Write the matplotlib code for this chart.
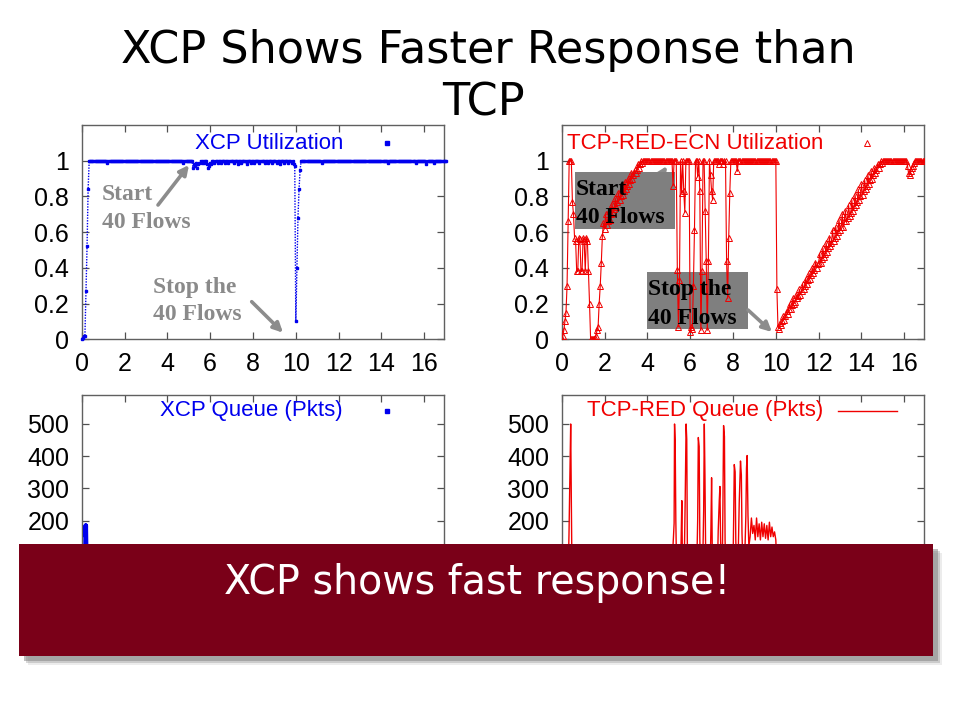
import numpy as np
import matplotlib
matplotlib.use('Agg')
import matplotlib.pyplot as plt
from matplotlib.patches import Rectangle, FancyArrowPatch

# ---------------- data ----------------
util_step = 0.05  # seconds between utilization samples

xcp_util = [
    0, .01, .02, .02, .27, .52, .84, 1, 1, 1, 1, 1, 1, 1, 1, 1, 1, 1, 1, 1,
    1, 1, 1, 1, .99, 1, 1, 1, 1, 1, 1, 1, 1, 1, 1, 1, 1, 1, 1, 1,
    1, 1, 1, 1, 1, 1, 1, 1, 1, 1, 1, 1, 1, 1, 1, 1, 1, 1, 1, 1,
    1, 1, 1, 1, 1, 1, 1, 1, 1, 1, 1, 1, 1, 1, 1, 1, 1, 1, 1, 1,
    1, 1, 1, 1, 1, 1, 1, 1, 1, 1, 1, 1, 1, 1, 1, .99, 1, 1, 1, 1,
    1, 1, 1, 1, .96, .98, .97, .99, .96, .98, .99, 1, .99, 1, .99, 1, 1, .98, .96, .97,
    .99, .98, 1, 1, .99, 1, 1, .99, 1, 1, .99, 1, 1, 1, .99, 1, 1, .99, 1, 1,
    1, 1, .99, 1, 1, 1, .98, 1, 1, .99, 1, 1, 1, 1, .98, 1, 1, 1, .99, 1,
    1, .99, 1, 1, 1, 1, .99, 1, 1, 1, 1, .99, 1, 1, .99, 1, 1, 1, .99, 1,
    1, 1, .99, 1, 1, .98, 1, 1, 1, .99, 1, 1, 1, .99, 1, 1, .99, 1, .98, .97,
    .10, .40, .68, .84, .95, 1, 1, 1, 1, 1, 1, 1, 1, 1, 1, 1, 1, 1, 1, 1,
    1, 1, 1, 1, .99, 1, 1, 1, 1, 1, 1, 1, 1, 1, 1, 1, 1, 1, 1, 1,
    1, 1, 1, 1, 1, 1, 1, 1, 1, 1, 1, 1, 1, 1, 1, 1, 1, 1, 1, 1,
    1, 1, 1, 1, 1, 1, 1, 1, 1, 1, 1, 1, 1, 1, 1, 1, 1, 1, 1, 1,
    1, 1, 1, 1, 1, 1, .99, 1, 1, 1, 1, 1, 1, 1, 1, 1, 1, 1, 1, 1,
    1, 1, 1, 1, 1, 1, 1, 1, 1, 1, 1, 1, .99, 1, 1, 1, 1, 1, 1, 1,
    1, 1, .98, 1, 1, 1, 1, 1, 1, .99, 1, 1, 1, 1, 1, 1, 1, 1, 1, 1,
    1,
]

tcp_util = [
    0, .02, .05, .10, .15, .30, .66, 1, 1, 1, .77, .70, .57, .55, .38, .38, .57, .56, .38, .38,
    .57, .55, .38, .57, .55, .38, .20, 0, 0, 0, 0, .01, .02, .05, .07, .20, .30, .43, .58, .65,
    .62, .70, .64, .66, .72, .67, .70, .76, .71, .73, .79, .74, .77, .82, .78, .80, .85, .81, .83, .88,
    .84, .86, .90, .87, .89, .93, .90, .92, .95, .93, .95, .98, .96, .98, 1, .99, 1, 1, 1, 1,
    1, 1, 1, 1, 1, 1, 1, 1, 1, 1, 1, 1, 1, 1, 1, 1, 1, 1, 1, 1,
    1, 1, 1, 1, .86, 1, 1, 1, .39, .07, .33, 1, .82, 1, .83, .71, 1, 1, 1, 1,
    .04, .07, .06, .30, .61, 1, 1, .91, 1, .83, .05, .38, 1, 1, .72, .44, .05, .44, 1, .92,
    .83, .78, 1, 1, 1, 1, 1, .98, 1, 1, 1, .98, 1, 1, .44, .23, .57, .82, 1, 1,
    1, 1, 1, 1, .94, 1, 1, 1, 1, 1, 1, 1, 1, 1, 1, 1, 1, 1, 1, 1,
    1, 1, 1, 1, 1, 1, 1, 1, 1, 1, 1, 1, 1, 1, 1, 1, 1, 1, 1, 1,
    1, .28, .07, .06, .09, .08, .10, .13, .11, .13, .16, .14, .17, .20, .17, .19, .23, .20, .21, .25,
    .23, .24, .28, .25, .27, .31, .28, .30, .34, .31, .33, .37, .34, .36, .40, .37, .39, .43, .40, .42,
    .43, .48, .43, .45, .51, .46, .48, .54, .49, .51, .57, .52, .54, .61, .55, .57, .63, .58, .60, .67,
    .61, .63, .70, .63, .66, .72, .66, .68, .75, .69, .71, .78, .72, .74, .81, .75, .77, .84, .78, .80,
    .87, .81, .83, .89, .84, .86, .92, .87, .89, .94, .90, .92, .96, .93, .95, .98, .96, .98, 1, .99,
    1, 1, 1, 1, 1, 1, 1, 1, 1, 1, 1, 1, 1, 1, 1, 1, 1, 1, 1, 1,
    1, 1, 1, .97, .93, .92, .94, .96, .97, .99, 1, 1, 1, 1, 1, 1, 1, 1, 1, 1,
    1,
]

xcp_queue_t = [0, 0.10, 0.15, 0.17, 0.18, 0.19, 0.20, 0.21, 0.22, 0.24, 0.30, 0.50, 17.0]
xcp_queue_q = [0, 0, 60, 120, 185, 150, 185, 140, 100, 40, 0, 0, 0]

tcp_queue_t = [0.0, 0.28, 0.31, 0.34, 0.38, 0.42, 0.45, 0.48, 0.55,
               1.0, 3.9, 4.5, 5.1, 5.15, 5.22, 5.25, 5.27, 5.30, 5.33, 5.37,
               5.55, 5.58, 5.61, 5.64,
               5.72, 5.77, 5.81, 5.84, 5.87, 5.92,
               6.30, 6.35, 6.38, 6.42, 6.45, 6.48,
               6.58, 6.63, 6.66, 6.69, 6.72, 6.76,
               6.93, 6.97, 7.00, 7.03, 7.07,
               7.27, 7.31, 7.36, 7.39, 7.42, 7.46,
               7.50, 7.53, 7.56, 7.60, 7.63, 7.67,
               8.00, 8.03, 8.06, 8.10, 8.13, 8.17,
               8.24, 8.29, 8.35, 8.39, 8.42, 8.46,
               8.55, 8.60, 8.63, 8.66, 8.70, 8.74,
               8.80, 8.86, 8.92, 8.98, 9.04, 9.10, 9.16, 9.22, 9.28, 9.34,
               9.40, 9.46, 9.52, 9.58, 9.64, 9.70, 9.76, 9.82, 9.88, 9.94,
               10.00, 10.05, 10.10, 17.0]
tcp_queue_q = [0, 0, 60, 155, 326, 500, 260, 40, 0,
               0, 0, 40, 30, 60, 150, 192, 500, 446, 200, 30,
               40, 150, 262, 60,
               50, 278, 500, 453, 100, 20,
               30, 200, 458, 430, 150, 30,
               40, 230, 500, 341, 120, 20,
               40, 180, 333, 120, 20,
               40, 170, 264, 306, 140, 30,
               60, 250, 495, 461, 140, 30,
               60, 200, 374, 351, 140, 50,
               80, 254, 385, 342, 160, 70,
               90, 213, 363, 402, 216, 120,
               150, 208, 160, 185, 140, 208, 150, 190, 140, 195,
               150, 190, 145, 185, 140, 195, 150, 180, 150, 165,
               140, 40, 0, 0]

util_ticks = [0, 0.2, 0.4, 0.6, 0.8, 1.0]
util_labels = ['0', '0.2', '0.4', '0.6', '0.8', '1']
queue_ticks = [0, 100, 200, 300, 400, 500]
# the 0 and 100 labels lie under the call-out box, so they are left blank
queue_labels = ['', '', '200', '300', '400', '500']
time_ticks = [0, 2, 4, 6, 8, 10, 12, 14, 16]

# ---------------- figure ----------------
W, H = 960, 720
fig = plt.figure(figsize=(9.6, 7.2), dpi=100)
fig.patch.set_facecolor('white')


def P(x, y):
    return (x / W, 1 - y / H)


def axes_px(x0, y0, x1, y1):
    return fig.add_axes([x0 / W, 1 - y1 / H, (x1 - x0) / W, (y1 - y0) / H])


BLUE = '#0000ee'
RED = '#f00000'
TICKFONT = 'Liberation Sans'

ax_xu = axes_px(81.7, 125, 444, 339.3)
ax_tu = axes_px(561.7, 125, 924, 339.3)
ax_xq = axes_px(81.7, 395, 444, 585)
ax_tq = axes_px(561.7, 395, 924, 585)


def style(ax, ylim, yticks, ylabels, show_x=True):
    ax.set_xlim(0, 16.92)
    ax.set_ylim(*ylim)
    ax.set_xticks(time_ticks)
    ax.set_xticklabels([str(t) for t in time_ticks], fontfamily=TICKFONT)
    ax.set_yticks(yticks)
    ax.set_yticklabels(ylabels, fontfamily=TICKFONT)
    ax.tick_params(direction='in', top=True, right=True, length=5, width=0.9,
                   labelsize=18, pad=9, color='#505050', labelcolor='black')
    if not show_x:
        # the time labels of the lower panels sit under the call-out box
        ax.tick_params(axis='x', labelbottom=False)
    for s in ax.spines.values():
        s.set_color('#606060')
        s.set_linewidth(1.0)


style(ax_xu, (0, 1.2), util_ticks, util_labels)
style(ax_tu, (0, 1.2), util_ticks, util_labels)
style(ax_xq, (0, 590), queue_ticks, queue_labels, show_x=False)
style(ax_tq, (0, 590), queue_ticks, queue_labels, show_x=False)

t_xcp = np.arange(len(xcp_util)) * util_step
t_tcp = np.arange(len(tcp_util)) * util_step

ax_xu.plot(t_xcp, xcp_util, color=BLUE, lw=1.0, ls=(0, (1, 1)), marker='s', ms=2.0,
           mec=BLUE, mfc=BLUE, zorder=3, clip_on=False)
ax_tu.plot(t_tcp, tcp_util, color=RED, lw=0.8, marker='^', ms=4.0, mfc='none',
           mec=RED, mew=0.7, zorder=3)
ax_xq.plot(xcp_queue_t, xcp_queue_q, color=BLUE, lw=3.0, zorder=3)
ax_tq.plot(tcp_queue_t, tcp_queue_q, color=RED, lw=1.0, zorder=3)

# in-plot keys
key_kw = dict(ha='right', va='center', fontsize=16, fontfamily=TICKFONT)
ax_xu.text(0.721, 0.916, 'XCP Utilization', transform=ax_xu.transAxes, color=BLUE, **key_kw)
ax_xu.plot([0.843], [0.916], 's', ms=2.2, color=BLUE, transform=ax_xu.transAxes, clip_on=False)
ax_tu.text(0.721, 0.916, 'TCP-RED-ECN Utilization', transform=ax_tu.transAxes, color=RED, **key_kw)
ax_tu.plot([0.843], [0.916], '^', ms=4.0, mfc='none', mec=RED, mew=0.7,
           transform=ax_tu.transAxes, clip_on=False)
ax_xq.text(0.721, 0.916, 'XCP Queue (Pkts)', transform=ax_xq.transAxes, color=BLUE, **key_kw)
ax_xq.plot([0.843], [0.916], 's', ms=2.2, color=BLUE, transform=ax_xq.transAxes, clip_on=False)
ax_tq.text(0.721, 0.916, 'TCP-RED Queue (Pkts)', transform=ax_tq.transAxes, color=RED, **key_kw)
ax_tq.plot([0.762, 0.925], [0.916, 0.916], color=RED, lw=1.0, transform=ax_tq.transAxes,
           clip_on=False)

# ---------------- annotations ----------------
GRAY_TXT = '#8a8a8a'
ann_kw = dict(fontsize=17, fontfamily='Liberation Serif', fontweight='bold', ha='left',
              va='baseline')

for txt, x, y in [('Start', 101.7, 200), ('40 Flows', 101.7, 228),
                  ('Stop the', 153, 293), ('40 Flows', 153, 320)]:
    fig.text(*P(x, y), txt, color=GRAY_TXT, zorder=5, **ann_kw)


def arrow(p0, p1, owner, z):
    a = FancyArrowPatch(P(*p0), P(*p1), transform=fig.transFigure, arrowstyle='-|>',
                        mutation_scale=14, lw=2.6, color='#8c8c8c', zorder=z,
                        clip_on=False, shrinkA=0, shrinkB=0)
    owner.add_artist(a)


arrow((158, 205), (189, 165), fig, 5)
arrow((251.7, 301.7), (283, 332.7), fig, 5)

# right-hand grey boxes (under the curve)
BOXGRAY = '#7f7f7f'
for (x0, y0, x1, y1) in [(575, 172, 675, 229), (647, 272, 748, 329)]:
    r = Rectangle(P(x0, y1), (x1 - x0) / W, (y1 - y0) / H, transform=fig.transFigure,
                  facecolor=BOXGRAY, edgecolor='none', zorder=1, clip_on=False)
    ax_tu.add_artist(r)
arrow((652, 190), (667, 166), ax_tu, 0.5)
arrow((748, 310), (772, 332), ax_tu, 4)

for txt, x, y in [('Start', 576, 195), ('40 Flows', 576, 223),
                  ('Stop the', 647.7, 295), ('40 Flows', 647.7, 324)]:
    ax_tu.text(*P(x, y), txt, transform=fig.transFigure, color='black', zorder=5,
               clip_on=False, **ann_kw)

# ---------------- title ----------------
fig.text(*P(488, 63), 'XCP Shows Faster Response than', ha='center', va='baseline',
         fontsize=32, color='black', fontfamily='DejaVu Sans')
fig.text(*P(483, 116), 'TCP', ha='center', va='baseline', fontsize=32, color='black',
         fontfamily='DejaVu Sans')

# ---------------- bottom call-out box ----------------
for off, alpha in [(9, 0.15), (7, 0.3), (5, 0.5)]:
    fig.add_artist(Rectangle(P(19 + off, 656 + off), 914 / W, 112 / H,
                             transform=fig.transFigure, facecolor='#808080',
                             edgecolor='none', alpha=alpha, zorder=9))
fig.add_artist(Rectangle(P(19, 656), 914 / W, 112 / H, transform=fig.transFigure,
                         facecolor='#7a0018', edgecolor='none', zorder=10))
fig.text(*P(477, 594), 'XCP shows fast response!', ha='center', va='baseline',
         fontsize=28.5, color='white', zorder=11, fontfamily='DejaVu Sans')

fig.savefig('out.png', dpi=100, facecolor='white')
